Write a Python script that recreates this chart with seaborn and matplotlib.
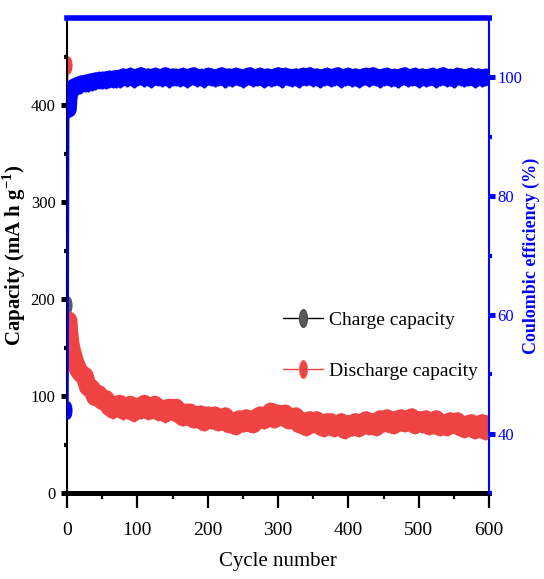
import numpy as np
import pandas as pd
import matplotlib
matplotlib.use("Agg")
import matplotlib.pyplot as plt
from matplotlib.path import Path
from matplotlib.lines import Line2D
from matplotlib.ticker import MultipleLocator
import seaborn as sns

# ---------------- data ----------------
cycles = [1, 2, 3, 4, 5, 6, 8, 10, 12, 14, 16, 18, 20] + list(range(25, 601, 5))

discharge_capacity = [441, 178, 167, 160, 154, 150, 144, 139, 134, 131, 127, 125, 123,
    121, 109, 108, 99, 102, 95, 97, 89, 86, 91,
    92, 85, 88, 91, 83, 89, 87, 92, 85, 88,
    91, 84, 87, 82, 88, 84, 88, 81, 78, 83,
    83, 76, 78, 81, 73, 80, 76, 80, 73, 76,
    79, 71, 74, 69, 76, 72, 77, 72, 71, 78,
    80, 75, 79, 84, 76, 82, 79, 82, 75, 78,
    79, 71, 74, 68, 75, 71, 75, 69, 67, 73,
    73, 67, 70, 73, 65, 71, 68, 73, 67, 72,
    75, 69, 73, 68, 76, 72, 77, 71, 70, 76,
    77, 72, 75, 78, 70, 75, 72, 76, 69, 73,
    76, 68, 72, 68, 74, 70, 74, 68, 66, 71,
    72, 65, 68, 72, 64, 71]

charge_capacity = [194, 175, 165, 158, 152, 148, 142, 137, 132, 129, 126, 123, 121,
    116, 110, 106, 102, 99, 96, 93, 89, 89, 88,
    89, 87, 86, 88, 85, 87, 86, 88, 87, 86,
    87, 86, 85, 85, 85, 85, 83, 82, 80, 80,
    80, 78, 76, 78, 75, 78, 75, 77, 75, 74,
    75, 73, 72, 71, 73, 72, 73, 72, 73, 75,
    77, 77, 77, 80, 78, 80, 78, 78, 77, 75,
    74, 73, 72, 71, 72, 72, 70, 70, 70, 70,
    70, 69, 69, 70, 68, 69, 68, 69, 69, 69,
    70, 71, 70, 71, 72, 73, 72, 72, 73, 73,
    73, 76, 73, 75, 72, 73, 71, 72, 71, 70,
    71, 70, 70, 71, 70, 71, 69, 69, 69, 68,
    68, 67, 66, 68, 66, 69]

coulombic_efficiency = [44.0, 94.6, 96.4, 97.2, 97.6, 97.9, 98.2, 98.4, 98.5, 98.6, 98.7, 98.8, 98.9,
    99.0, 99.1, 99.3, 99.4, 99.5, 99.5, 99.6, 99.7, 99.7, 99.8,
    99.8, 100.1, 99.9, 100.2, 99.8, 100.0, 100.3, 99.9, 100.1, 99.8,
    100.2, 100.0, 99.9, 100.3, 99.8, 100.1, 100.0, 99.9, 100.2, 99.8,
    100.1, 100.3, 99.9, 100.0, 99.8, 100.2, 100.1, 99.9, 100.0, 100.3,
    99.8, 100.1, 99.9, 100.2, 100.0, 99.8, 100.1, 100.3, 99.9, 100.0,
    100.2, 99.8, 100.1, 99.9, 100.0, 100.3, 99.8, 100.2, 100.0, 99.9,
    100.1, 99.8, 100.2, 100.0, 100.3, 99.9, 100.1, 99.8, 100.0, 100.2,
    99.9, 100.1, 100.3, 99.8, 100.0, 100.2, 99.9, 100.1, 99.8, 100.0,
    100.2, 99.9, 100.3, 100.0, 99.8, 100.1, 100.2, 99.9, 100.0, 99.8,
    100.1, 100.3, 99.9, 100.0, 100.2, 99.8, 100.1, 99.9, 100.0, 100.2,
    99.8, 100.1, 100.3, 99.9, 100.0, 99.8, 100.2, 100.1, 99.9, 100.0,
    100.2, 99.8, 100.1, 99.9, 100.0, 100.1]

series_labels = ["Charge capacity", "Discharge capacity"]
x_ticks = [0, 100, 200, 300, 400, 500, 600]
left_ticks = [0, 100, 200, 300, 400]
right_ticks = [40, 60, 80, 100]

df = pd.DataFrame({"cycle": cycles, "charge": charge_capacity,
                   "discharge": discharge_capacity, "ce": coulombic_efficiency})
df_after_first = df[df["cycle"] >= 2]

# ---------------- style ----------------
sns.set_theme(style="white")
plt.rcParams["font.family"] = ["Liberation Serif", "DejaVu Serif"]
plt.rcParams["mathtext.fontset"] = "custom"
plt.rcParams["mathtext.rm"] = "Liberation Serif"
plt.rcParams["mathtext.bf"] = "Liberation Serif:bold"

BLUE = "#0000ff"
RED_FACE = "#f04444"
RED_EDGE = "#f26a6a"
GRAY_FACE = "#5a5a5a"
GRAY_EDGE = "#3a3a3a"

circ = Path.unit_circle()
ellipse = Path(circ.vertices * np.array([0.45, 1.0]), circ.codes)
MS = 13

fig = plt.figure(figsize=(5.44, 5.79), dpi=100)
ax = fig.add_axes([67 / 544, 1 - 493 / 579, (489 - 67) / 544, (493 - 18) / 579])
ax2 = ax.twinx()

# charge (underneath)
sns.lineplot(data=df_after_first, x="cycle", y="charge", ax=ax, color=GRAY_FACE,
             lw=9, solid_joinstyle="round", solid_capstyle="round", errorbar=None)
sns.lineplot(data=df, x="cycle", y="charge", ax=ax, color="black", lw=1.0,
             marker=ellipse, markersize=MS, markerfacecolor=GRAY_FACE,
             markeredgecolor=GRAY_FACE, markeredgewidth=0.0, errorbar=None)
# discharge
sns.lineplot(data=df_after_first, x="cycle", y="discharge", ax=ax, color=RED_FACE,
             lw=13, solid_joinstyle="round", solid_capstyle="round", errorbar=None)
sns.lineplot(data=df, x="cycle", y="discharge", ax=ax, color=RED_FACE, lw=1.0,
             marker=ellipse, markersize=MS, markerfacecolor=RED_FACE,
             markeredgecolor=RED_FACE, markeredgewidth=0.0, errorbar=None)
# coulombic efficiency
sns.lineplot(data=df_after_first, x="cycle", y="ce", ax=ax2, color=BLUE,
             lw=12, solid_joinstyle="round", solid_capstyle="round", errorbar=None)
sns.lineplot(data=df, x="cycle", y="ce", ax=ax2, color=BLUE, lw=1.5,
             marker=ellipse, markersize=MS, markerfacecolor=BLUE,
             markeredgecolor=BLUE, markeredgewidth=0.0, errorbar=None)

# ---------------- axes ----------------
ax.set_xlim(0, 600)
ax.set_ylim(0, 490)
ax2.set_ylim(30, 110)

ax.set_xticks(x_ticks)
ax.set_xticklabels([str(t) for t in x_ticks])
ax.xaxis.set_minor_locator(MultipleLocator(50))
ax.set_yticks(left_ticks)
ax.set_yticklabels([str(t) for t in left_ticks])
ax.yaxis.set_minor_locator(MultipleLocator(50))
ax2.set_yticks(right_ticks)
ax2.set_yticklabels([str(t) for t in right_ticks])
ax2.yaxis.set_minor_locator(MultipleLocator(10))

for s in ["top", "right"]:
    ax.spines[s].set_visible(False)
for s in ["left", "bottom"]:
    ax2.spines[s].set_visible(False)
ax.spines["left"].set_color("black")
ax.spines["left"].set_linewidth(1.5)
ax.spines["bottom"].set_color("black")
ax.spines["bottom"].set_linewidth(3.6)
ax2.spines["top"].set_color(BLUE)
ax2.spines["top"].set_linewidth(4.0)
ax2.spines["right"].set_color(BLUE)
ax2.spines["right"].set_linewidth(1.5)

ax.tick_params(axis="x", which="major", direction="out", length=11, width=1.6,
               colors="black", pad=10, labelsize=14, bottom=True)
ax.tick_params(axis="x", which="minor", direction="out", length=4.5, width=1.6,
               colors="black", bottom=True)
ax.tick_params(axis="y", which="major", direction="out", length=4.3, width=3.6,
               colors="black", pad=4, labelsize=12, left=True)
ax.tick_params(axis="y", which="minor", direction="out", length=2.0, width=3.0,
               colors="black", left=True)
ax2.tick_params(axis="y", which="major", direction="out", length=4.5, width=3.6,
                colors=BLUE, pad=1.5, labelsize=12, right=True)
ax2.tick_params(axis="y", which="minor", direction="out", length=2.2, width=3.0,
                colors=BLUE, right=True)

ax.set_xlabel("Cycle number", fontsize=15, color="black", labelpad=9)
ax.set_ylabel(r"Capacity (mA h g$^{\mathbf{-1}}$)", fontsize=15, fontweight="bold",
              color="black", labelpad=2)
ax2.set_ylabel("Coulombic efficiency (%)", fontsize=13, fontweight="bold",
               color=BLUE, rotation=90, labelpad=0.5)

# ---------------- legend ----------------
handles = [
    Line2D([0], [0], color="black", lw=1.0, marker=ellipse, markersize=MS,
           markerfacecolor=GRAY_FACE, markeredgecolor=GRAY_EDGE, markeredgewidth=0.6),
    Line2D([0], [0], color=RED_FACE, lw=1.0, marker=ellipse, markersize=MS,
           markerfacecolor=RED_FACE, markeredgecolor=RED_EDGE, markeredgewidth=0.6),
]
leg = ax.legend(handles, series_labels, loc="upper left",
                bbox_to_anchor=(283 / 544, 1 - 311 / 579), bbox_transform=fig.transFigure,
                frameon=False, fontsize=14, handlelength=2.05, handletextpad=0.3,
                labelspacing=1.75, borderpad=0, borderaxespad=0, numpoints=1)
for t in leg.get_texts():
    t.set_color("black")

fig.savefig("out.png", dpi=100)
